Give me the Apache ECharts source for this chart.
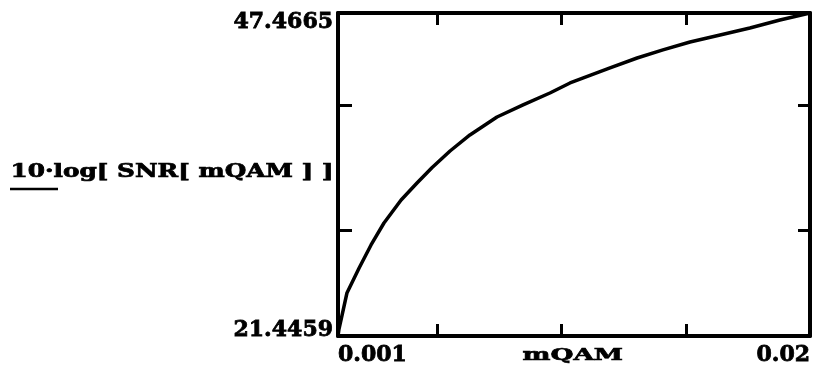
<!DOCTYPE html>
<html>
<head>
<meta charset="utf-8">
<script src="https://cdn.jsdelivr.net/npm/echarts@6/dist/echarts.min.js"></script>
<style>
  html, body { margin: 0; padding: 0; background: #fff; }
  #chart { width: 814px; height: 374px; }
</style>
</head>
<body>
<div id="chart"></div>
<script>
// Signal-to-noise ratio in dB versus the mQAM parameter
const mQAM = [0.001, 0.00104, 0.00136, 0.00185, 0.00233, 0.00285, 0.00354, 0.00418,
  0.00478, 0.00551, 0.00631, 0.0074, 0.00845, 0.00953, 0.01034, 0.01195, 0.01304,
  0.01408, 0.01517, 0.01638, 0.01758, 0.01879, 0.02];
const snrDb = [21.4459, 22.0, 24.91, 26.92, 28.78, 30.55, 32.40, 33.77,
  35.0, 36.35, 37.64, 39.09, 40.06, 41.02, 41.83, 43.04, 43.84,
  44.49, 45.13, 45.69, 46.26, 46.90, 47.4665];

const xRange = [0.001, 0.02];
const yRange = [21.4459, 47.4665];
const xTicks = [0.005, 0.01, 0.015];
const yTicks = [30, 40];
const xTickLabels = ['0.001', '0.02'];
const yTickLabels = ['21.4459', '47.4665'];
const xTitle = 'mQAM';
const yTitle = '10·log[ SNR[ mQAM ] ]';

const FONT = 'DejaVu Serif';
const INK = '#000';

const chart = echarts.init(document.getElementById('chart'), null, { renderer: 'canvas' });

const frameLine = { show: true, onZero: false, lineStyle: { color: INK, width: 4 } };
const tickStyle = (vals, len) => ({
  show: true, inside: true, length: len, customValues: vals,
  lineStyle: { color: INK, width: 3 }
});
const heavyText = { fontFamily: FONT, fontWeight: 'bold', fontSize: 22, color: INK,
  textBorderColor: INK, textBorderWidth: 0.8 };

chart.setOption({
  animation: false,
  backgroundColor: '#fff',
  grid: { left: 338, right: 4, top: 13, bottom: 38, containLabel: false },
  xAxis: [
    {
      type: 'value', position: 'bottom', min: xRange[0], max: xRange[1],
      axisLine: frameLine,
      axisTick: tickStyle(xTicks, 12),
      splitLine: { show: false },
      axisLabel: Object.assign({
        show: true, margin: 8, customValues: xRange,
        alignMinLabel: 'left', alignMaxLabel: 'right',
        formatter: v => (v === xRange[0] ? xTickLabels[0] : xTickLabels[1])
      }, heavyText)
    },
    {
      type: 'value', position: 'top', min: xRange[0], max: xRange[1],
      axisLine: frameLine,
      axisTick: tickStyle(xTicks, 12),
      splitLine: { show: false },
      axisLabel: { show: false }
    }
  ],
  yAxis: [
    {
      type: 'value', position: 'left', min: yRange[0], max: yRange[1],
      axisLine: frameLine,
      axisTick: tickStyle(yTicks, 14),
      splitLine: { show: false },
      axisLabel: {
        show: true, margin: 5, customValues: yRange,
        formatter: v => (v === yRange[1] ? '{top|' + yTickLabels[1] + '}' : '{bot|' + yTickLabels[0] + '}'),
        rich: {
          top: Object.assign({ padding: [18, 0, 0, 0] }, heavyText),
          bot: Object.assign({ padding: [0, 0, 12, 0] }, heavyText)
        }
      }
    },
    {
      type: 'value', position: 'right', min: yRange[0], max: yRange[1],
      axisLine: frameLine,
      axisTick: tickStyle(yTicks, 12),
      splitLine: { show: false },
      axisLabel: { show: false }
    }
  ],
  series: [{
    type: 'line',
    data: mQAM.map((m, i) => [m, snrDb[i]]),
    showSymbol: false,
    smooth: false,
    clip: true,
    lineStyle: { color: INK, width: 3.5, join: 'round' }
  }],
  graphic: [
    {
      type: 'text', left: 10, top: 163,
      scaleX: 1.375,
      style: { text: yTitle, fontFamily: FONT, fontWeight: 'bold', fontSize: 18, fill: INK,
        stroke: INK, lineWidth: 0.7 }
    },
    {
      type: 'line', shape: { x1: 10, y1: 189, x2: 58, y2: 189 },
      style: { stroke: INK, lineWidth: 2.5 }
    },
    {
      type: 'text', left: 522, top: 347,
      scaleX: 1.55,
      style: { text: xTitle, fontFamily: FONT, fontWeight: 'bold', fontSize: 17, fill: INK,
        stroke: INK, lineWidth: 0.7 }
    }
  ]
});
</script>
</body>
</html>
